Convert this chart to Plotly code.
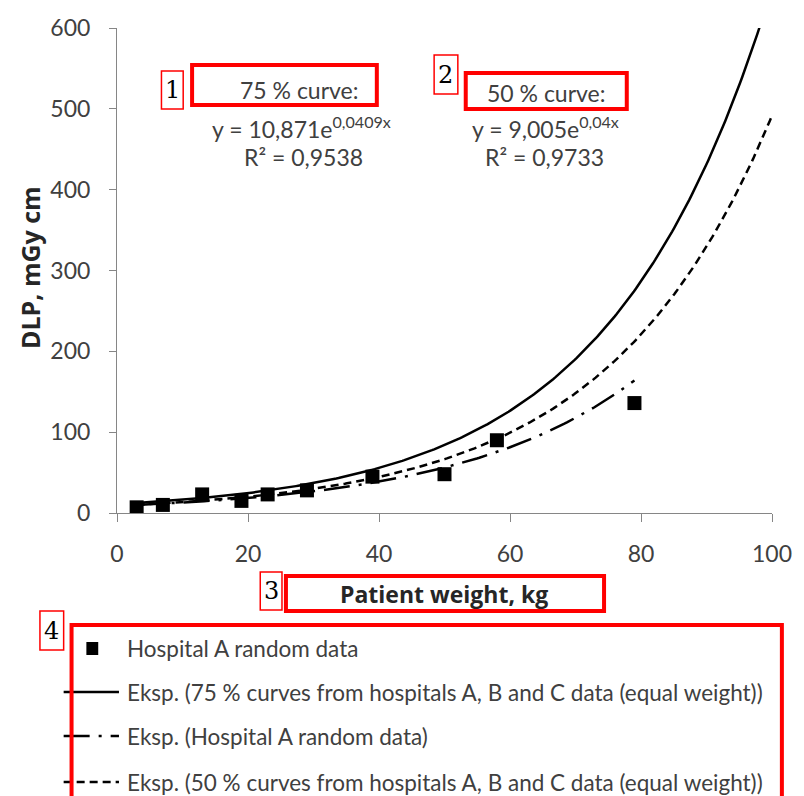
import numpy as np
import plotly.graph_objects as go

# ---------------- data ----------------
weight_kg = [3, 7, 13, 19, 23, 29, 39, 50, 58, 79]
dlp_mgycm = [7, 10, 23, 15, 23, 28, 45, 48, 90, 136]

# exponential trend lines y = a * exp(b x) as shown on the chart
fit_75 = [10.871, 0.0409]
fit_50 = [9.005, 0.04]

x_ticks = [0, 20, 40, 60, 80, 100]
y_ticks = [0, 100, 200, 300, 400, 500, 600]

legend_labels = [
    "Hospital A random data",
    "Eksp. (75 % curves from hospitals A, B and C data (equal weight))",
    "Eksp. (Hospital A random data)",
    "Eksp. (50 % curves from hospitals A, B and C data (equal weight))",
]

# ---------------- layout geometry ----------------
W, H = 804, 796
L, R, T, B = 117, 24, 28, 283
PW, PH = W - L - R, H - T - B


def px(x):
    return (x - L) / PW


def py(y):
    return (H - B - y) / PH


FONT = "Lato, Open Sans, sans-serif"
BOLD = "Open Sans, Lato, sans-serif"
TXT = "#404040"

# trend lines
xc = np.linspace(3, 100, 300)
y75 = fit_75[0] * np.exp(fit_75[1] * xc)
y50 = fit_50[0] * np.exp(fit_50[1] * xc)
bA, lnaA = np.polyfit(np.array(weight_kg, float), np.log(np.array(dlp_mgycm, float)), 1)
xa = np.linspace(min(weight_kg), max(weight_kg), 200)
ya = np.exp(lnaA) * np.exp(bA * xa)

DASHDOT = "26px,9px,3px,9px"
DASH = "8px,5px"

fig = go.Figure()
fig.add_trace(go.Scatter(x=xc, y=y75, mode="lines",
                         line=dict(color="black", width=2.5), showlegend=False))
fig.add_trace(go.Scatter(x=xa, y=ya, mode="lines",
                         line=dict(color="black", width=2.5, dash=DASHDOT),
                         showlegend=False))
fig.add_trace(go.Scatter(x=xc, y=y50, mode="lines",
                         line=dict(color="black", width=2.5, dash=DASH),
                         showlegend=False))
fig.add_trace(go.Scatter(x=weight_kg, y=dlp_mgycm, mode="markers",
                         marker=dict(symbol="square", size=14, color="black"),
                         showlegend=False))

shapes = []
annotations = []

# equations
eq = [
    (302, 90, "75 % curve:"),
    (304, 127, "y = 10,871e<sup>0,0409x</sup>"),
    (306, 157, "R² = 0,9538"),
    (552, 93, "50 % curve:"),
    (551, 127, "y = 9,005e<sup>0,04x</sup>"),
    (550, 157, "R² = 0,9733"),
]
for x, y, t in eq:
    annotations.append(dict(x=px(x), y=py(y), xref="paper", yref="paper", text=t,
                            showarrow=False, xanchor="center", yanchor="middle",
                            font=dict(family=FONT, size=23, color=TXT)))

# axis titles
annotations.append(dict(x=px(448), y=py(594), xref="paper", yref="paper",
                        text="<b>Patient weight, kg</b>", showarrow=False,
                        xanchor="center", yanchor="middle",
                        font=dict(family=BOLD, size=23, color="#262626")))
annotations.append(dict(x=px(29), y=py(268), xref="paper", yref="paper",
                        text="<b>DLP, mGy cm</b>", showarrow=False, textangle=-90,
                        xanchor="center", yanchor="middle",
                        font=dict(family=BOLD, size=25, color="#262626")))

# legend (manual)
rows = [648, 692, 736, 782]
shapes.append(dict(type="rect", xref="paper", yref="paper",
                   x0=px(86), x1=px(98), y0=py(642), y1=py(655),
                   fillcolor="black", line=dict(width=0)))
dashes = ["solid", DASHDOT, DASH]
for r, d in zip(rows[1:], dashes):
    shapes.append(dict(type="line", xref="paper", yref="paper",
                       x0=px(63), x1=px(119), y0=py(r), y1=py(r),
                       line=dict(color="black", width=2.5, dash=d)))
for r, t in zip(rows, legend_labels):
    annotations.append(dict(x=px(125), y=py(r), xref="paper", yref="paper", text=t,
                            showarrow=False, xanchor="left", yanchor="middle",
                            font=dict(family=FONT, size=22.5, color=TXT)))

# red highlight boxes
thick = [(193, 65, 380, 105), (470, 73, 633, 109), (288, 576, 610, 611), (71, 625, 790, 800)]
for x0, y0, x1, y1 in thick:
    shapes.append(dict(type="rect", xref="paper", yref="paper",
                       x0=px(x0), x1=px(x1), y0=py(y0), y1=py(y1),
                       line=dict(color="#ff0000", width=4)))
labels = [("1", 162, 71, 184, 109), ("2", 438, 55, 462, 94),
          ("3", 262, 572, 284, 610), ("4", 39, 611, 63, 650)]
for t, x0, y0, x1, y1 in labels:
    shapes.append(dict(type="rect", xref="paper", yref="paper",
                       x0=px(x0), x1=px(x1), y0=py(y0), y1=py(y1),
                       line=dict(color="#ff0000", width=1.5)))
    annotations.append(dict(x=px((x0 + x1) / 2), y=py((y0 + y1) / 2), xref="paper",
                            yref="paper", text=t, showarrow=False,
                            xanchor="center", yanchor="middle",
                            font=dict(family="DejaVu Serif, Liberation Serif, serif",
                                      size=24, color="black")))

axis_common = dict(showgrid=False, zeroline=False, showline=True, linecolor="#868686",
                   linewidth=1, ticks="outside", tickcolor="#868686", tickwidth=1,
                   tickfont=dict(family=FONT, size=23, color="#404040"))

fig.update_layout(
    width=W, height=H, autosize=False,
    margin=dict(l=L, r=R, t=T, b=B),
    paper_bgcolor="white", plot_bgcolor="white",
    xaxis=dict(range=[0, 100], tickvals=x_ticks, ticklen=8, ticklabelstandoff=12,
               **axis_common),
    yaxis=dict(range=[0, 600], tickvals=y_ticks, ticklen=7, ticklabelstandoff=14,
               **axis_common),
    shapes=shapes, annotations=annotations,
)

fig.write_html("out.html")
